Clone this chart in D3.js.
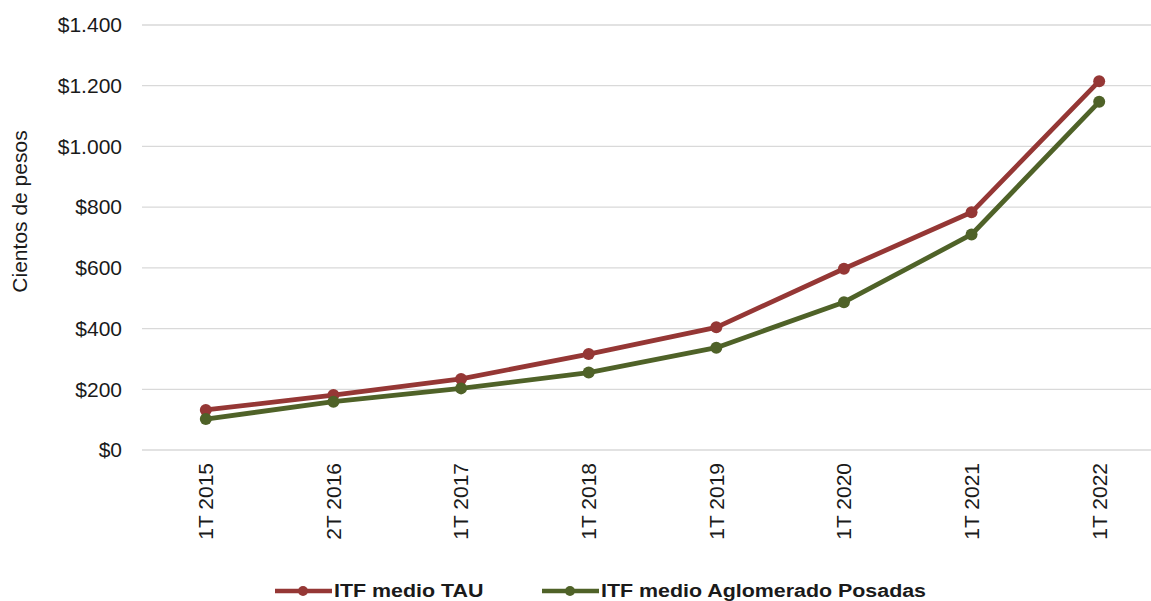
<!DOCTYPE html>
<html>
<head>
<meta charset="utf-8">
<script src="https://cdn.jsdelivr.net/npm/d3@7"></script>
<style>
  body { margin: 0; background: #fff; }
  svg { font-family: "Liberation Sans", Arial, sans-serif; }
</style>
</head>
<body>
<div id="chart"></div>
<script>
var categories = ["1T 2015", "2T 2016", "1T 2017", "1T 2018", "1T 2019", "1T 2020", "1T 2021", "1T 2022"];
var tauValues = [132, 181, 234, 316, 404, 597, 783, 1215];
var posadasValues = [102, 159, 203, 255, 337, 487, 710, 1147];
var yTicks = [0, 200, 400, 600, 800, 1000, 1200, 1400];
var seriesNames = ["ITF medio TAU", "ITF medio Aglomerado Posadas"];
var seriesColors = ["#953735", "#4f6228"];

var width = 1151, height = 601;
var margin = { top: 25, right: -12, bottom: 151, left: 142 };

var svg = d3.select("#chart").append("svg")
	.attr("width", width)
	.attr("height", height);

var x = d3.scaleBand()
	.domain(categories)
	.range([margin.left, width - margin.right]);

var y = d3.scaleLinear()
	.domain([0, 1400])
	.range([height - margin.bottom, margin.top]);

function fmt(v) {
	return "$" + d3.format(",")(v).replace(/,/g, ".");
}

// gridlines
svg.append("g")
	.selectAll("line")
	.data(yTicks)
	.enter().append("line")
	.attr("x1", margin.left)
	.attr("x2", width)
	.attr("y1", function(d) { return y(d); })
	.attr("y2", function(d) { return y(d); })
	.attr("stroke", "#d9d9d9")
	.attr("stroke-width", 1.3);

// y axis labels
var yAxis = svg.append("g")
	.attr("transform", "translate(" + (margin.left - 20) + ",0)")
	.call(d3.axisLeft(y).tickValues(yTicks).tickFormat(fmt).tickSize(0));
yAxis.select(".domain").remove();
yAxis.selectAll("text")
	.attr("font-size", 21)
	.attr("fill", "#1a1a1a")
	.attr("x", 0)
	.attr("font-family", "Liberation Sans, Arial, sans-serif");

svg.append("text")
	.attr("transform", "translate(27,211.5) rotate(-90)")
	.attr("text-anchor", "middle")
	.attr("font-size", 21)
	.attr("fill", "#1a1a1a")
	.text("Cientos de pesos");

// x axis labels
var xAxis = svg.append("g")
	.attr("transform", "translate(0," + (height - margin.bottom) + ")")
	.call(d3.axisBottom(x).tickSize(0));
xAxis.select(".domain").remove();
xAxis.selectAll("text")
	.attr("font-size", 21)
	.attr("fill", "#1a1a1a")
	.attr("font-family", "Liberation Sans, Arial, sans-serif")
	.attr("text-anchor", "end")
	.attr("transform", "rotate(-90)")
	.attr("x", -13)
	.attr("y", 0)
	.attr("dy", "0.35em");

var allSeries = [tauValues, posadasValues];

var line = d3.line()
	.x(function(d, i) { return x(categories[i]) + x.bandwidth() / 2; })
	.y(function(d) { return y(d); });

allSeries.forEach(function(vals, s) {
	svg.append("path")
		.datum(vals)
		.attr("fill", "none")
		.attr("stroke", seriesColors[s])
		.attr("stroke-width", 4.8)
		.attr("stroke-linejoin", "round")
		.attr("d", line);

	svg.append("g")
		.selectAll("circle")
		.data(vals)
		.enter().append("circle")
		.attr("cx", function(d, i) { return x(categories[i]) + x.bandwidth() / 2; })
		.attr("cy", function(d) { return y(d); })
		.attr("r", 6)
		.attr("fill", seriesColors[s]);
});

// legend
var legendX = [275, 542];
var legend = svg.append("g")
	.selectAll("g")
	.data(seriesNames)
	.enter().append("g")
	.attr("transform", function(d, i) { return "translate(" + legendX[i] + ",591)"; });

legend.append("line")
	.attr("x1", 0).attr("x2", 57)
	.attr("y1", 0).attr("y2", 0)
	.attr("stroke", function(d, i) { return seriesColors[i]; })
	.attr("stroke-width", 4.5);

legend.append("circle")
	.attr("cx", 28).attr("cy", 0).attr("r", 5)
	.attr("fill", function(d, i) { return seriesColors[i]; });

legend.append("text")
	.attr("transform", "translate(59,0) scale(1.19,1)")
	.attr("dy", "0.36em")
	.attr("font-size", 18)
	.attr("font-weight", "bold")
	.attr("fill", "#1a1a1a")
	.text(function(d) { return d; });
</script>
</body>
</html>
